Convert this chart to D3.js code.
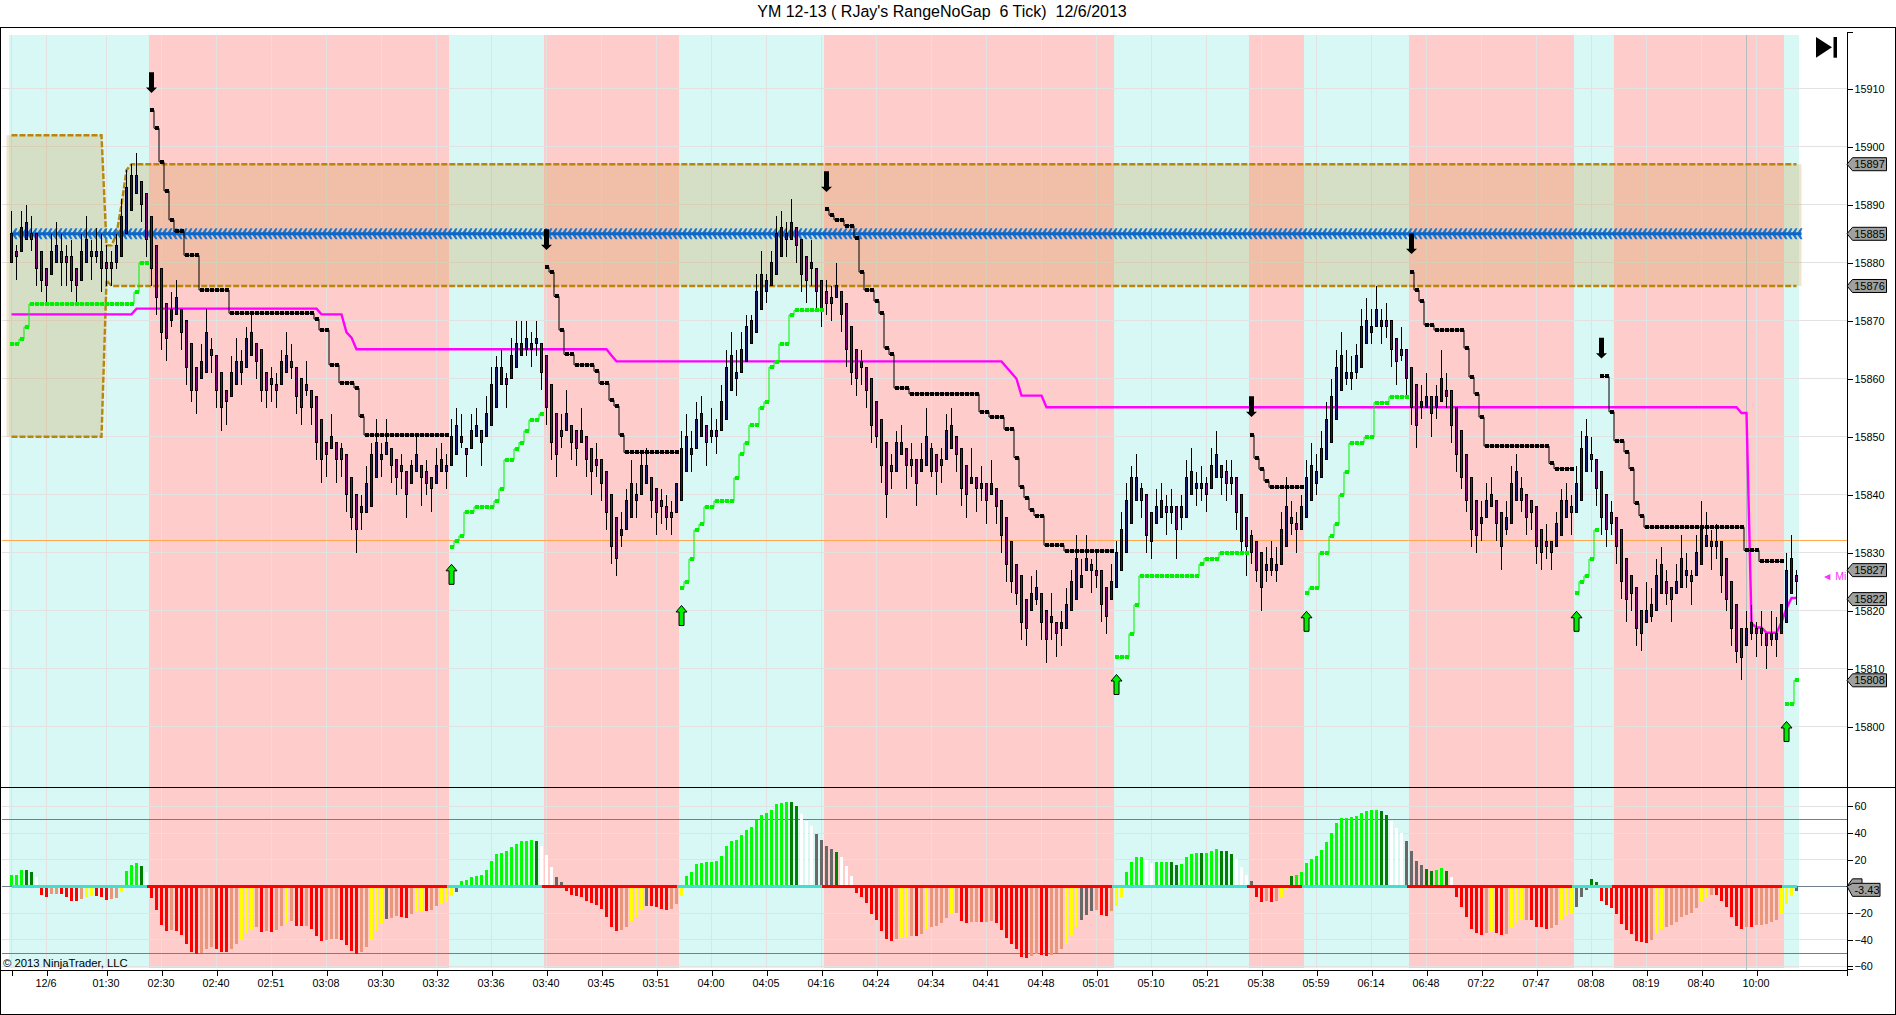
<!DOCTYPE html>
<html>
<head>
<meta charset="utf-8">
<title>YM 12-13</title>
<script src="https://cdnjs.cloudflare.com/ajax/libs/d3/7.8.5/d3.min.js"></script>
<style>
  html, body { margin: 0; padding: 0; background: #fff; overflow: hidden; }
  svg { display: block; }
  text { font-family: "Liberation Sans", Arial, sans-serif; fill: #000; }
  .axis text { font-size: 10.8px; }
  .crisp { shape-rendering: crispEdges; }
</style>
</head>
<body>
<div id="chart"></div>
<script>
const width = 1896;
const height = 1015;
const base = 15000; // price arrays below are written as points above this

const timeLabels = ['', '12/6', '01:30', '02:30', '02:40', '02:51', '03:08', '03:30', '03:32', '03:36', '03:40',
  '03:45', '03:51', '04:00', '04:05', '04:16', '04:24', '04:34', '04:41', '04:48', '05:01', '05:10', '05:21',
  '05:38', '05:59', '06:14', '06:48', '07:22', '07:47', '08:08', '08:19', '08:40', '10:00'];
const tickBars = [0, 7, 19, 30, 41, 52, 63, 74, 85, 96, 107, 118, 129, 140, 151, 162, 173, 184, 195, 206, 217,
  228, 239, 250, 261, 272, 283, 294, 305, 316, 327, 338, 349];
const priceTicks = [15800, 15810, 15820, 15830, 15840, 15850, 15860, 15870, 15880, 15890, 15900, 15910];
const histTicks = [-60, -40, -20, 20, 40, 60];
const histGrid = [-60, -40, -20, 20, 40, 60];
const histLevels = [50, -50];
const priceMarkers = [15897, 15885, 15876, 15827, 15822, 15808];

// trend flips, bar edges: cyan, pink, cyan, ...
const bandEdges = [-0.5, 27.5, 87.5, 106.5, 133.5, 162.5, 220.5, 247.5, 258.5, 279.5, 312.5, 320.5, 354.5, 357.5];
const zeroFlips = [0, 27, 87, 106, 133, 162, 220, 247, 258, 279, 312, 320, 354, 357];

const barDirs = ('UDUUDDDDUU' + 'DDDDUUDUDD' + 'DUUUUUDDDD' + 'DDUUDDDDUU' + 'DDDDUUUUUD' + 'DDDDUUDDDU'
  + 'DDDDUDDDDD' + 'UUUUUUDDDD' + 'UUDDDUUUUU' + 'UDUUDUUUUD' + 'UUUUUUDDDD' + 'DUDDUDDDDD'
  + 'DDUUUUUUDD' + 'DDDUUUUUUD' + 'UDUUUUUUUU' + 'UUUUUUUDDD' + 'UDDDDUDDDD' + 'DDDDDDDUUD'
  + 'DDUUDDDUUD' + 'DDUDUDUDDD' + 'DDDDUUDDUD' + 'UUUUUUDDDD' + 'UUUUUUDDDU' + 'UDUDUUUUUD'
  + 'UUDDDDDDDD' + 'DUUUUUDDUU' + 'UUUUUUUUUU' + 'UUUUUDDDDD' + 'DDUUDUUDDD' + 'DDDDUUUDDU'
  + 'UUDDDDDDDU' + 'UUDUUUDDDD' + 'DDDDDDDUUU' + 'UDDUUUDUUU' + 'DUDDDDDUUD' + 'DDUUUUUD').split('');

const highs = [
  889, 883, 889, 890, 888, 885, 882, 879, 885, 887,
  885, 883, 884, 879, 885, 888, 884, 886, 885, 883,
  882, 885, 891, 896, 897, 899, 894, 892, 888, 883,
  879, 873, 875, 877, 872, 870, 866, 862, 866, 872,
  867, 864, 861, 858, 864, 867, 865, 869, 871, 866,
  865, 861, 862, 861, 865, 868, 866, 862, 860, 863,
  858, 857, 853, 849, 854, 849, 849, 847, 843, 840,
  840, 845, 849, 853, 849, 853, 848, 846, 847, 844,
  846, 850, 845, 846, 843, 848, 849, 847, 853, 855,
  854, 848, 854, 855, 851, 857, 862, 864, 865, 861,
  867, 870, 870, 870, 868, 870, 866, 864, 859, 854,
  854, 858, 852, 851, 855, 850, 848, 849, 846, 844,
  840, 836, 837, 841, 846, 842, 847, 848, 843, 841,
  841, 840, 839, 842, 851, 854, 851, 856, 857, 852,
  855, 853, 859, 865, 868, 865, 868, 871, 871, 878,
  882, 878, 882, 888, 889, 887, 891, 886, 884, 881,
  884, 879, 877, 877, 876, 880, 875, 873, 869, 865,
  865, 862, 860, 856, 853, 849, 847, 851, 852, 848,
  849, 846, 849, 855, 849, 847, 848, 854, 855, 850,
  848, 845, 848, 843, 845, 842, 846, 841, 839, 836,
  832, 828, 826, 822, 826, 827, 823, 820, 823, 818,
  820, 824, 827, 833, 829, 833, 829, 830, 827, 824,
  828, 832, 837, 842, 845, 847, 842, 840, 837, 841,
  842, 840, 841, 838, 840, 846, 848, 844, 845, 843,
  848, 851, 845, 846, 846, 843, 840, 836, 834, 832,
  830, 831, 832, 831, 837, 843, 839, 837, 840, 846,
  849, 847, 851, 856, 860, 865, 868, 865, 864, 866,
  872, 874, 872, 876, 872, 873, 870, 867, 869, 865,
  862, 859, 859, 861, 857, 859, 865, 861, 858, 855,
  851, 847, 843, 839, 839, 842, 843, 839, 837, 839,
  845, 847, 843, 840, 839, 838, 834, 835, 832, 837,
  841, 842, 840, 845, 851, 853, 850, 846, 844, 840,
  839, 836, 834, 829, 826, 824, 820, 825, 824, 829,
  831, 827, 824, 828, 833, 830, 827, 833, 839, 837,
  834, 835, 832, 829, 825, 821, 817, 820, 821, 818,
  820, 816, 820, 819, 821, 830, 833, 827];
const bodyTops = [
  885, 882, 886, 887, 885, 885, 882, 879, 882, 883,
  882, 881, 881, 879, 882, 884, 882, 882, 882, 880,
  880, 883, 888, 893, 895, 895, 894, 892, 888, 883,
  879, 873, 872, 874, 872, 870, 866, 862, 863, 868,
  865, 864, 861, 858, 861, 863, 863, 867, 868, 866,
  865, 861, 860, 859, 863, 864, 863, 862, 860, 859,
  858, 857, 853, 849, 850, 849, 848, 847, 843, 840,
  838, 842, 847, 849, 847, 849, 848, 846, 845, 844,
  845, 847, 845, 844, 843, 845, 846, 845, 850, 852,
  850, 848, 851, 852, 851, 854, 859, 862, 862, 860,
  864, 866, 866, 867, 866, 867, 866, 864, 859, 854,
  851, 854, 852, 851, 851, 850, 848, 846, 846, 844,
  840, 836, 834, 839, 842, 840, 845, 845, 843, 841,
  839, 838, 837, 842, 848, 850, 848, 853, 854, 852,
  851, 851, 856, 862, 864, 861, 865, 869, 870, 875,
  878, 877, 880, 885, 886, 885, 887, 886, 884, 881,
  880, 879, 877, 875, 874, 876, 875, 873, 869, 865,
  863, 862, 860, 856, 853, 849, 845, 849, 849, 848,
  846, 846, 846, 850, 848, 847, 846, 851, 852, 850,
  848, 845, 843, 843, 842, 842, 842, 841, 839, 836,
  832, 828, 826, 822, 823, 824, 823, 820, 819, 818,
  818, 821, 825, 829, 826, 829, 828, 827, 827, 824,
  825, 830, 834, 839, 843, 843, 841, 840, 837, 838,
  839, 838, 838, 838, 838, 843, 844, 842, 842, 842,
  845, 847, 845, 844, 843, 843, 840, 836, 833, 832,
  830, 828, 829, 828, 834, 838, 836, 835, 838, 843,
  845, 844, 848, 853, 857, 862, 864, 861, 861, 864,
  869, 870, 869, 872, 870, 870, 870, 867, 865, 865,
  862, 859, 856, 857, 857, 857, 860, 858, 858, 855,
  851, 847, 843, 839, 836, 839, 840, 839, 837, 836,
  842, 844, 841, 840, 839, 838, 834, 832, 832, 835,
  839, 839, 838, 842, 848, 850, 847, 846, 844, 840,
  837, 836, 834, 829, 826, 824, 820, 820, 821, 826,
  828, 825, 824, 825, 829, 827, 826, 830, 834, 833,
  832, 832, 832, 829, 825, 821, 817, 817, 818, 817,
  817, 816, 816, 816, 821, 827, 829, 826];
const bodyBottoms = [
  880, 881, 882, 884, 884, 879, 877, 876, 878, 880,
  880, 880, 877, 876, 877, 880, 881, 881, 879, 879,
  879, 880, 881, 885, 889, 892, 890, 884, 879, 874,
  868, 867, 870, 871, 868, 862, 858, 858, 860, 861,
  864, 858, 855, 856, 857, 859, 861, 862, 864, 863,
  858, 858, 859, 858, 859, 861, 862, 857, 855, 858,
  855, 849, 846, 847, 848, 846, 846, 840, 836, 834,
  837, 837, 838, 843, 846, 847, 845, 843, 844, 840,
  842, 844, 843, 842, 841, 842, 844, 844, 845, 847,
  849, 847, 848, 850, 849, 850, 852, 855, 859, 859,
  860, 862, 864, 865, 865, 866, 861, 855, 849, 847,
  850, 851, 849, 848, 849, 846, 844, 845, 842, 837,
  831, 829, 833, 834, 836, 839, 840, 842, 839, 837,
  838, 836, 836, 837, 839, 844, 847, 848, 850, 849,
  850, 850, 851, 853, 858, 860, 861, 863, 866, 868,
  872, 875, 876, 878, 881, 884, 884, 883, 878, 877,
  879, 875, 872, 873, 873, 874, 871, 865, 861, 860,
  862, 858, 852, 850, 845, 840, 844, 844, 847, 845,
  845, 842, 844, 845, 844, 844, 845, 846, 848, 847,
  841, 840, 842, 841, 841, 839, 840, 838, 833, 828,
  825, 823, 818, 817, 820, 822, 818, 815, 818, 816,
  817, 817, 820, 822, 824, 827, 827, 826, 821, 819,
  822, 824, 827, 830, 835, 839, 839, 833, 832, 835,
  836, 837, 837, 834, 836, 836, 840, 841, 841, 840,
  841, 843, 843, 842, 842, 837, 832, 831, 830, 827,
  824, 827, 827, 827, 828, 831, 835, 834, 834, 836,
  839, 842, 843, 846, 849, 853, 858, 860, 860, 861,
  862, 866, 868, 869, 869, 869, 865, 863, 864, 860,
  855, 852, 855, 855, 854, 855, 856, 857, 852, 847,
  843, 839, 834, 833, 835, 836, 838, 835, 831, 834,
  835, 839, 839, 836, 837, 831, 830, 831, 830, 831,
  833, 836, 837, 837, 839, 844, 846, 841, 836, 834,
  835, 831, 825, 822, 823, 817, 816, 818, 819, 820,
  823, 823, 822, 823, 824, 826, 825, 826, 828, 831,
  831, 831, 826, 822, 817, 813, 812, 814, 816, 816,
  816, 814, 815, 815, 816, 818, 823, 825];
const lows = [
  880, 877, 882, 884, 882, 876, 875, 873, 878, 880,
  876, 876, 875, 873, 877, 880, 877, 880, 875, 876,
  876, 879, 881, 885, 889, 892, 887, 881, 876, 871,
  865, 863, 869, 871, 865, 859, 856, 854, 860, 861,
  861, 855, 851, 852, 857, 859, 859, 862, 864, 860,
  856, 855, 856, 855, 859, 861, 860, 854, 852, 857,
  852, 846, 842, 843, 848, 842, 843, 837, 834, 830,
  834, 837, 838, 843, 843, 847, 842, 840, 841, 836,
  842, 844, 838, 840, 837, 842, 844, 841, 845, 847,
  848, 843, 848, 850, 845, 850, 852, 855, 859, 855,
  860, 862, 864, 864, 862, 864, 858, 852, 846, 843,
  848, 851, 846, 845, 849, 843, 840, 843, 839, 834,
  828, 826, 831, 834, 836, 836, 840, 842, 836, 833,
  835, 834, 833, 837, 839, 844, 844, 848, 850, 845,
  849, 847, 851, 853, 858, 857, 861, 863, 866, 868,
  872, 873, 876, 878, 881, 881, 884, 880, 875, 873,
  876, 872, 869, 871, 870, 874, 868, 862, 859, 857,
  859, 855, 849, 848, 842, 836, 841, 844, 847, 841,
  843, 838, 844, 845, 843, 840, 842, 846, 848, 844,
  838, 836, 842, 837, 839, 835, 840, 835, 830, 825,
  823, 821, 815, 814, 820, 821, 815, 811, 815, 812,
  814, 817, 820, 822, 824, 827, 823, 824, 818, 816,
  822, 824, 827, 830, 835, 839, 836, 830, 829, 835,
  836, 833, 835, 829, 834, 836, 840, 838, 839, 837,
  841, 843, 840, 839, 840, 834, 830, 826, 828, 825,
  820, 825, 826, 825, 828, 831, 833, 830, 834, 836,
  839, 840, 843, 846, 849, 853, 858, 859, 858, 860,
  862, 866, 866, 869, 866, 867, 862, 859, 863, 857,
  852, 848, 853, 855, 850, 853, 856, 855, 849, 844,
  841, 837, 831, 830, 832, 836, 838, 832, 827, 833,
  835, 839, 837, 833, 834, 828, 827, 829, 827, 831,
  833, 836, 833, 837, 839, 844, 844, 838, 833, 831,
  833, 828, 822, 818, 820, 814, 813, 818, 818, 820,
  823, 821, 818, 823, 824, 824, 821, 826, 828, 831,
  827, 829, 823, 820, 814, 811, 808, 814, 815, 812,
  814, 810, 814, 812, 816, 818, 823, 821];

const histValues = [
  8.5, 8.5, 12, 12, 11, 7, -6.5, -8, -6, -6,
  -6, -8, -11, -11, -9.5, -8, -7, -7, -8, -10,
  -9.5, -9, -4, 11.5, 16, 17.5, 15, 11, -9, -18,
  -29, -33.5, -33, -33.5, -36.5, -43, -49, -50.5, -50, -47,
  -45.5, -47, -49, -49, -47, -43, -40, -35, -33, -30.5,
  -34, -33.5, -34, -33, -30, -27.5, -26, -30, -30, -30,
  -32, -37, -41, -40, -39.5, -39.5, -40, -44, -48.5, -50.5,
  -49, -45.5, -39.5, -33.5, -28, -24.5, -24, -22, -23, -24,
  -21, -19, -18.5, -18.5, -18, -15, -13, -11.5, -7, -4,
  4, 5, 7, 8, 8.5, 12, 19, 24, 25, 26.5,
  29.5, 32, 34, 34, 35, 34, 30, 23.5, 14.5, 7,
  3, -3.5, -6.5, -7, -8, -11, -12.5, -14, -17, -23,
  -30.5, -33.5, -33, -30.5, -26, -23, -18, -15, -15, -15.5,
  -17, -18, -17, -13, -7, 8, 11, 17, 17.5, 18,
  18, 19, 23, 30, 34, 35, 38.5, 42, 44.5, 50,
  53.5, 55, 57, 62, 62.5, 63, 63, 60, 54, 49,
  45, 39, 35, 30, 28, 26, 22, 15, 8, -5,
  -8, -12.5, -21, -25, -33.5, -39.5, -41, -39.5, -38.5, -38,
  -37, -37, -36, -32, -30.5, -30, -27.5, -24, -21, -20,
  -26, -27.5, -27, -27, -27, -27, -26, -27.5, -33, -39,
  -43, -47, -53, -54, -52, -51, -51.5, -52, -51.5, -50,
  -47, -43, -37, -30.5, -25, -21.5, -18.5, -18, -21.5, -22,
  -18.5, -15, -8, 11, 18, 22, 22, 20, 17.5, 18,
  18, 18, 18, 16, 17, 22, 24, 25, 25, 25,
  26.5, 28, 26.5, 26.5, 24, 20.5, 14.5, 8.5, 4, -8,
  -12, -11, -12, -11, -8, -3, 8, 8.5, 11, 17.5,
  20.5, 23, 27, 33, 40, 47.5, 51, 51, 52, 53,
  55, 56.5, 57, 57, 56.5, 53.5, 49, 44, 40, 34,
  26.5, 19, 16, 13, 11.5, 12, 14, 11.5, 7, -8,
  -15.5, -23, -32, -35, -36.5, -35, -34, -35, -36.5, -36,
  -31, -27.5, -25, -25, -25, -30.5, -30.5, -32, -31, -29,
  -25, -22, -20, -15.5, -8, -3, 5.5, 3.5, -11, -14,
  -16, -21, -28, -33, -36, -41, -42, -42.5, -40, -36,
  -32, -30.5, -29, -27, -23, -21.5, -20, -16, -11, -9,
  -6.5, -6.5, -11, -15.5, -23, -30, -32, -30.5, -30.5, -29,
  -29, -28, -27, -25, -21, -13, -7, -3.43];
const histCodes = ('GGGKKWRRSS' + 'RRRRSYYRRR' + 'SSYGGGKWRR' + 'RRSRRRRRSS' + 'SRRRSSYYYS' + 'RSRSSYSRRS'
  + 'RRRSSSRRRR' + 'SSYYYASSRR' + 'SYYRSSYYYA' + 'GGGGGGGGGG' + 'GGGGGKWWWA' + 'ARRRRRRRRR'
  + 'RRSSYYYARR' + 'RRSSYGGGGG' + 'GGGGGGGGGG' + 'GGGGGGKKWW' + 'WAAAAKWWWR' + 'RRRRRRRSYY'
  + 'SRSYSSSSYS' + 'RRSSRSSRRR' + 'RRRRSSRRSS' + 'SYYYAAASRR' + 'SYYGGGGWWG' + 'GGKKGGGGKG'
  + 'GGKKKWWWAR' + 'RSRSYYKGGG' + 'GGGGGGGGGG' + 'GGGGKKWWWA' + 'AAAKKGGKWR' + 'RRRRRSYRRS'
  + 'YYYSRRRRSS' + 'YYYAAAKKRR' + 'RRRRRRRRSY' + 'YSSSSSSSYY' + 'SRRRRRRSRS' + 'SSSSYYYA').split('');

// stop lines: [first bar, [bars, level], ...]
const stopDown = [
  [28, [1, 906.3], [1, 903.2], [1, 897.4], [1, 892.4], [1, 887.4], [2, 885.4], [3, 881.3], [6, 875.3], [17, 871.3],
    [1, 870.3], [2, 868.4], [2, 862.4], [3, 859.3], [1, 858.4], [1, 853.5], [17, 850.3]],
  [107, [1, 879.2], [1, 878.4], [1, 874.2], [1, 868.4], [2, 864.2], [4, 862.4], [1, 861.3], [2, 859.2], [1, 856.3],
    [1, 855.3], [1, 850.3], [11, 847.3]],
  [163, [1, 889.2], [1, 888.2], [2, 887.4], [2, 886.4], [1, 884.3], [1, 878.4], [2, 875.3], [1, 873.4], [1, 871.3],
    [1, 865.3], [1, 864.2], [3, 858.4], [14, 857.4], [2, 854.3], [3, 853.4], [2, 851.3], [1, 846.4], [1, 841.4],
    [1, 839.5], [1, 837.4], [2, 836.4], [4, 831.3], [10, 830.3]],
  [248, [1, 850.3], [1, 846.3], [1, 844.4], [1, 842.4], [7, 841.3]],
  [280, [1, 878.4], [1, 875.3], [1, 873.4], [2, 869.3], [6, 868.4], [1, 865.3], [1, 860.3], [1, 857.4], [1, 853.4],
    [13, 848.4], [1, 845.4], [4, 844.5]],
  [318, [2, 860.4], [1, 854.3], [2, 849.3], [1, 847.4], [1, 844.5], [1, 838.5], [1, 836.4], [20, 834.4], [3, 830.4],
    [5, 828.5]]
];
const stopUp = [
  [0, [2, 866], [1, 866.8], [1, 868.9], [21, 872.9], [1, 874.9], [2, 880]],
  [88, [1, 831], [1, 832], [1, 832.9], [2, 837], [4, 837.9], [1, 838.9], [1, 841], [2, 846], [1, 847.9], [1, 849],
    [1, 851], [2, 852.9], [1, 853.9]],
  [134, [1, 823.9], [1, 825], [1, 828.9], [1, 833.9], [1, 834.9], [2, 837.9], [4, 838.9], [1, 842.9], [1, 847],
    [1, 848.9], [2, 852], [1, 855], [1, 856], [1, 862], [1, 862.9], [2, 866], [1, 871], [6, 871.8]],
  [221, [3, 812], [1, 816], [1, 821], [12, 826], [1, 828], [3, 829], [6, 830]],
  [259, [1, 823], [2, 823.9], [2, 829.9], [1, 832.8], [1, 834.9], [1, 839.9], [1, 843.9], [3, 848.9], [2, 849.9],
    [3, 855.9], [4, 856.9]],
  [313, [1, 823], [1, 825], [1, 826], [1, 828.9], [1, 833.9]],
  [355, [2, 803.9], [1, 808]]
];

// magenta average and the zone edges, [bars, level] from bar 0
const midLine = [[25, 871.1], [37, 872.1], [5, 871.1], [1, 868], [1, 867.1], [51, 865.1], [1, 864], [78, 863], [1, 862],
  [1, 861], [1, 860], [5, 857.1], [139, 855.1], [2, 854.1], [1, 817.8], [2, 817.1], [3, 816.2], [1, 818], [1, 820.4],
  [2, 822.2]];
const zoneUpper = [[19, 902], [2, 883], [1, 885], [1, 890], [1, 896], [334, 897]];
const zoneLower = [[19, 850], [1, 877], [338, 876]];
const pivotLevel = 15885;
const priorClose = 15832.1;
const sessionBar = 347;

const arrowDownBars = [28, 107, 163, 248, 280, 318];
const arrowDownTips = [909.3, 882.2, 892.2, 853.4, 881.5, 863.5];
const arrowUpBars = [88, 134, 221, 259, 313, 355];
const arrowUpTips = [828, 820.9, 809, 819.9, 819.9, 800.9];

const histColors = { G: '#00ff00', K: '#008000', W: '#ffffff', A: '#696969', R: '#ff0000', S: '#e9967a', Y: '#ffff00' };

const bars = highs.map((h, i) => ({
  i, high: h, top: bodyTops[i], bottom: bodyBottoms[i], low: lows[i], dir: barDirs[i],
  hist: histValues[i], histColor: histColors[histCodes[i]]
}));

const expand = (start, runs) => {
  const out = [];
  let i = start;
  runs.forEach(([count, level]) => {
    for (let k = 0; k < count; k++) out.push({ i: i++, v: level });
  });
  return out;
};

const chartRight = 1846.5;
const timeY = 969.5;
const paneY = 787.5;

const xScale = d3.scaleLinear().domain([-2.3, 367]).range([0, chartRight]);
const yPrice = d3.scaleLinear().domain([15789.6, 15919.8]).range([787, 32]);
const yHist = d3.scaleLinear().domain([-62, 74.5]).range([969, 787]);
const py = v => yPrice(base + v);

const svg = d3.select('#chart').append('svg')
  .attr('width', width)
  .attr('height', height);

/**
 * Background: trend bands and grid
 */
const bandData = d3.pairs(bandEdges).map((p, k) => ({ from: p[0], to: p[1], up: k % 2 === 0 }));
svg.append('g').attr('class', 'crisp').selectAll('rect')
  .data(bandData).join('rect')
  .attr('x', d => xScale(d.from))
  .attr('width', d => xScale(d.to) - xScale(d.from))
  .attr('y', 35)
  .attr('height', 933)
  .attr('fill', d => d.up ? '#d8f8f6' : '#ffcccc');

const grid = svg.append('g').attr('class', 'crisp').attr('stroke', '#e2e2e2').attr('stroke-width', 1);
grid.selectAll('.gy').data(priceTicks).join('line')
  .attr('class', 'gy')
  .attr('x1', 2).attr('x2', chartRight)
  .attr('y1', d => yPrice(d)).attr('y2', d => yPrice(d));
grid.selectAll('.gh').data(histGrid).join('line')
  .attr('class', 'gh')
  .attr('x1', 2).attr('x2', chartRight)
  .attr('y1', d => yHist(d)).attr('y2', d => yHist(d));
grid.selectAll('.gx').data(tickBars).join('line')
  .attr('class', 'gx')
  .attr('x1', d => xScale(d)).attr('x2', d => xScale(d))
  .attr('y1', 35).attr('y2', 968);

svg.append('line').attr('class', 'crisp')
  .attr('x1', xScale(sessionBar)).attr('x2', xScale(sessionBar))
  .attr('y1', 35).attr('y2', timeY)
  .attr('stroke', '#b4bebe');

svg.append('line').attr('class', 'crisp')
  .attr('x1', 2).attr('x2', chartRight)
  .attr('y1', yPrice(priorClose)).attr('y2', yPrice(priorClose))
  .attr('stroke', '#ffa850');

/**
 * Zone between the two dashed edges
 */
const upperPts = expand(0, zoneUpper);
const lowerPts = expand(0, zoneLower);
const zonePts = upperPts.map((d, k) => ({ i: d.i, up: d.v, lo: lowerPts[k].v }));
const zoneFill = [{ ...zonePts[0], i: -1 }, ...zonePts, { ...zonePts[zonePts.length - 1], i: 358 }];

svg.append('path')
  .attr('d', d3.area().x(d => xScale(d.i)).y0(d => py(d.lo)).y1(d => py(d.up))(zoneFill))
  .attr('fill', 'rgb(200,148,54)')
  .attr('fill-opacity', 0.25);

const edgeLine = d3.line().x(d => xScale(d.i)).y(d => py(d.v));
[upperPts, lowerPts].forEach(pts => {
  svg.append('path')
    .attr('d', edgeLine(pts))
    .attr('fill', 'none')
    .attr('stroke', '#b8860b')
    .attr('stroke-width', 2.4)
    .attr('stroke-dasharray', '6 2');
});

/**
 * Pivot line, repeated chevrons
 */
svg.append('g').selectAll('path')
  .data(bars).join('path')
  .attr('d', d => {
    const x = xScale(d.i);
    const y = yPrice(pivotLevel);
    return `M${x},${y}L${x + 4},${y - 5.5}L${x + 6},${y - 5.5}L${x + 3.5},${y}L${x + 6},${y + 5.5}L${x + 4},${y + 5.5}Z`;
  })
  .attr('fill', '#1a74d0');
svg.append('line')
  .attr('x1', xScale(0) + 1).attr('x2', xScale(357) + 5)
  .attr('y1', yPrice(pivotLevel)).attr('y2', yPrice(pivotLevel))
  .attr('stroke', '#0a66c8').attr('stroke-width', 3);

// magenta average
svg.append('path')
  .attr('d', edgeLine(expand(0, midLine)))
  .attr('fill', 'none')
  .attr('stroke', '#ff00ff')
  .attr('stroke-width', 2.4);

/**
 * Candles
 */
const candles = svg.append('g').attr('class', 'crisp');
candles.selectAll('line').data(bars).join('line')
  .attr('x1', d => xScale(d.i)).attr('x2', d => xScale(d.i))
  .attr('y1', d => py(d.high)).attr('y2', d => py(d.low))
  .attr('stroke', '#000');
candles.selectAll('rect').data(bars).join('rect')
  .attr('x', d => xScale(d.i) - 1)
  .attr('width', 2)
  .attr('y', d => py(d.top))
  .attr('height', d => py(d.bottom) - py(d.top))
  .attr('fill', d => d.dir === 'U' ? '#191970' : '#800080')
  .attr('stroke', '#000');

/**
 * Stop lines with square markers
 */
const drawStops = (segments, color) => {
  segments.forEach(([start, ...runs]) => {
    const pts = expand(start, runs);
    const last = pts[pts.length - 1];
    const g = svg.append('g');
    g.append('path')
      .attr('d', d3.line().curve(d3.curveStep).x(d => xScale(d.i)).y(d => py(d.v))([...pts, { i: last.i + 0.5, v: last.v }]))
      .attr('fill', 'none')
      .attr('stroke', color)
      .attr('stroke-width', 1);
    g.selectAll('rect').data(pts).join('rect')
      .attr('class', 'crisp')
      .attr('x', d => xScale(d.i) - 1.5)
      .attr('y', d => py(d.v) - 2)
      .attr('width', 4)
      .attr('height', 4)
      .attr('fill', color);
  });
};
drawStops(stopDown, '#000');
drawStops(stopUp, '#00f000');

// signal arrows
svg.append('g').selectAll('path')
  .data(arrowDownBars).join('path')
  .attr('d', (d, k) => {
    const x = xScale(d);
    const y = py(arrowDownTips[k]);
    return `M${x},${y}L${x - 5.5},${y - 5.3}L${x - 2.5},${y - 5.3}L${x - 2.5},${y - 20.7}L${x + 2.5},${y - 20.7}L${x + 2.5},${y - 5.3}L${x + 5.5},${y - 5.3}Z`;
  })
  .attr('fill', '#000');
svg.append('g').selectAll('path')
  .data(arrowUpBars).join('path')
  .attr('d', (d, k) => {
    const x = xScale(d);
    const y = py(arrowUpTips[k]);
    return `M${x},${y}L${x - 5.5},${y + 6.5}L${x - 2.5},${y + 6.5}L${x - 2.5},${y + 20}L${x + 2.5},${y + 20}L${x + 2.5},${y + 6.5}L${x + 5.5},${y + 6.5}Z`;
  })
  .attr('fill', '#00f000')
  .attr('stroke', '#000')
  .attr('stroke-width', 1);

/**
 * Lower panel: histogram, levels, zero line
 */
const levels = svg.append('g').attr('class', 'crisp').attr('stroke', '#708090');
levels.selectAll('line').data([...histLevels, 0]).join('line')
  .attr('x1', 2).attr('x2', chartRight)
  .attr('y1', d => yHist(d)).attr('y2', d => yHist(d));

svg.append('g').attr('class', 'crisp').selectAll('rect')
  .data(bars).join('rect')
  .attr('x', d => xScale(d.i) - 1.5)
  .attr('width', 3)
  .attr('y', d => Math.min(yHist(d.hist), yHist(0)))
  .attr('height', d => Math.abs(yHist(d.hist) - yHist(0)))
  .attr('fill', d => d.histColor);

svg.append('g').attr('class', 'crisp').selectAll('line')
  .data(d3.pairs(zeroFlips)).join('line')
  .attr('x1', d => xScale(d[0]))
  .attr('x2', d => xScale(d[1]))
  .attr('y1', yHist(0)).attr('y2', yHist(0))
  .attr('stroke', (d, k) => k % 2 === 0 ? '#40e0d0' : '#ff0000')
  .attr('stroke-width', 3);

/**
 * Axes
 */
const yAxisPrice = d3.axisRight(yPrice).tickValues(priceTicks).tickFormat(d3.format('d')).tickSize(6).tickPadding(2);
svg.append('g').attr('class', 'axis').attr('transform', `translate(${chartRight},0)`).call(yAxisPrice);

const yAxisHist = d3.axisRight(yHist).tickValues(histTicks).tickFormat(d3.format('d')).tickSize(6).tickPadding(2);
svg.append('g').attr('class', 'axis').attr('transform', `translate(${chartRight},0)`).call(yAxisHist);

const xAxis = d3.axisBottom(xScale).tickValues(tickBars).tickFormat((d, k) => timeLabels[k]).tickSize(6).tickPadding(4);
svg.append('g').attr('class', 'axis').attr('transform', `translate(0,${timeY})`).call(xAxis)
  .selectAll('text').attr('dx', -1);

svg.selectAll('.axis .tick line').attr('stroke', '#000').attr('class', 'crisp');
svg.selectAll('.axis .domain').attr('stroke', '#000').attr('class', 'domain crisp');

// frame and pane divider
svg.append('rect').attr('class', 'crisp')
  .attr('x', 0.5).attr('y', 27.5).attr('width', 1895).attr('height', 987)
  .attr('fill', 'none').attr('stroke', '#000');
svg.append('line').attr('class', 'crisp')
  .attr('x1', 0).attr('x2', width).attr('y1', paneY).attr('y2', paneY)
  .attr('stroke', '#000');

/**
 * Value tags on the axis
 */
const tagPath = (y, right, offset = 0) =>
  `M1847,${y}L1852.5,${y - 6.5 + offset}L${right},${y - 6.5 + offset}L${right},${y + 6.5 + offset}L1852.5,${y + 6.5 + offset}Z`;
const tags = svg.append('g');
tags.selectAll('path').data(priceMarkers).join('path')
  .attr('d', d => tagPath(yPrice(d), 1886.5))
  .attr('fill', '#a0a0a0')
  .attr('stroke', '#000');
tags.selectAll('text').data(priceMarkers).join('text')
  .attr('x', 1869.5)
  .attr('y', d => yPrice(d) + 4)
  .attr('text-anchor', 'middle')
  .attr('font-size', 11)
  .text(d => d);

tags.append('path').attr('d', tagPath(yHist(0), 1862, -1)).attr('fill', '#a0a0a0').attr('stroke', '#000');
tags.append('path').attr('d', tagPath(yHist(0), 1880, 3.5)).attr('fill', '#a0a0a0').attr('stroke', '#000');
tags.append('text')
  .attr('x', 1867)
  .attr('y', yHist(0) + 7.5)
  .attr('text-anchor', 'middle')
  .attr('font-size', 11)
  .text(histValues[histValues.length - 1].toFixed(2));

// label of the magenta line, cut by the axis
svg.append('clipPath').attr('id', 'axisClip').append('rect')
  .attr('x', 1800).attr('y', 540).attr('width', 46).attr('height', 60);
svg.append('text')
  .attr('clip-path', 'url(#axisClip)')
  .attr('x', 1822)
  .attr('y', yPrice(15826) + 4)
  .attr('font-size', 10.5)
  .style('fill', '#ff30ff')
  .text('\u25C4 Mid');

// end-of-chart button
svg.append('path').attr('d', 'M1816,37L1832,47.3L1816,57.7Z').attr('fill', '#000');
svg.append('rect').attr('x', 1833.5).attr('y', 37).attr('width', 3.5).attr('height', 20.7).attr('fill', '#000');

svg.append('text')
  .attr('x', 942)
  .attr('y', 17)
  .attr('text-anchor', 'middle')
  .attr('font-size', 16)
  .style('white-space', 'pre')
  .text("YM 12-13 ( RJay's RangeNoGap  6 Tick)  12/6/2013");

svg.append('text')
  .attr('x', 3)
  .attr('y', 967)
  .attr('font-size', 11.3)
  .text('\u00A9 2013 NinjaTrader, LLC');
</script>
</body>
</html>
